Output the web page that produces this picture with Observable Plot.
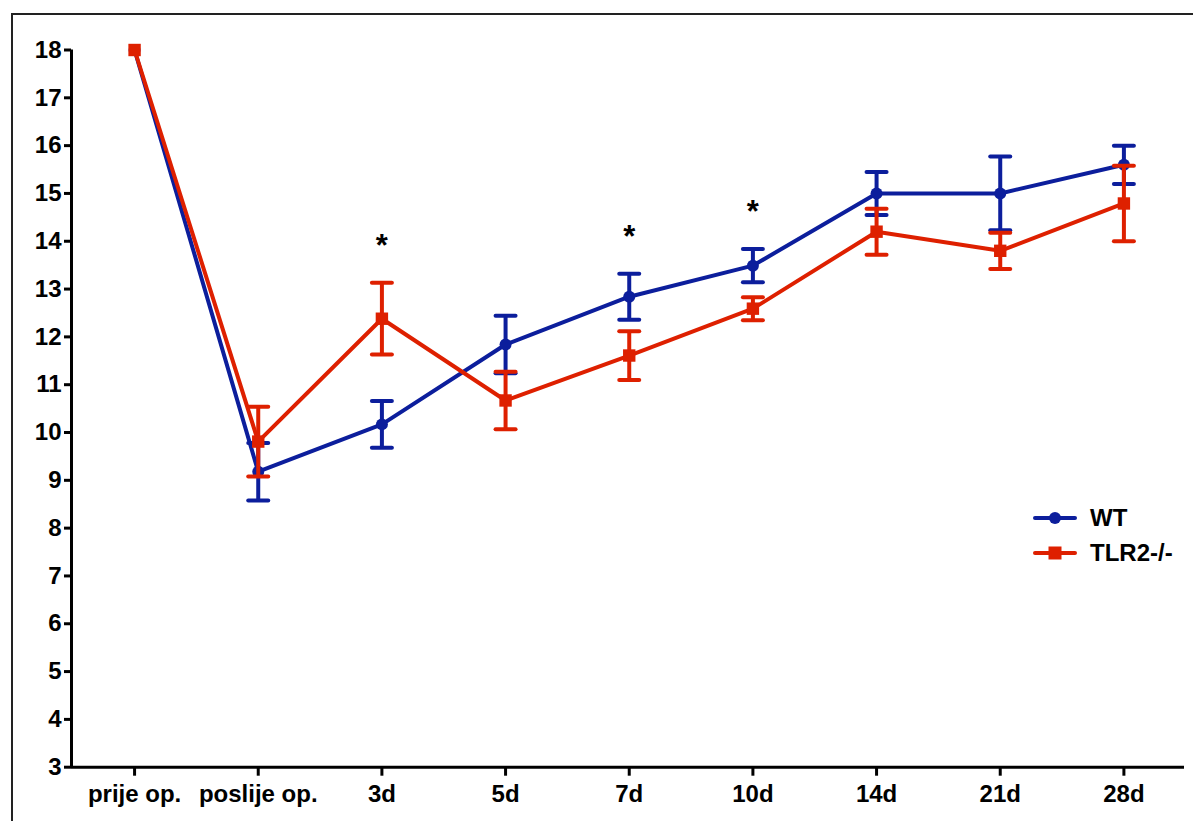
<!DOCTYPE html>
<html>
<head>
<meta charset="utf-8">
<script src="https://cdn.jsdelivr.net/npm/d3@7"></script>
<script src="https://cdn.jsdelivr.net/npm/@observablehq/plot@0.6"></script>
<style>
  html, body { margin: 0; padding: 0; background: #fff; }
  #wrap { position: relative; width: 1193px; height: 821px; overflow: hidden; font-family: "Liberation Sans", Arial, sans-serif; }
  #frame { position: absolute; left: 11px; top: 13px; width: 1200px; height: 900px; border-top: 2px solid #222; border-left: 2px solid #222; }
  #chart { position: absolute; left: 0; top: 0; }
  #legend { position: absolute; left: 1033px; top: 500px; font-weight: bold; font-size: 24px; color: #000; }
  .row { display: flex; align-items: center; height: 35px; }
  .row svg { margin-right: 13px; }
</style>
</head>
<body>
<div id="wrap">
  <div id="frame"></div>
  <div id="chart"></div>
  <div id="legend"></div>
</div>
<script>
const categories = ["prije op.", "poslije op.", "3d", "5d", "7d", "10d", "14d", "21d", "28d"];
const wtMean = [18, 9.18, 10.17, 11.84, 12.84, 13.49, 15.0, 15.0, 15.6];
const wtErr  = [0, 0.6, 0.49, 0.6, 0.48, 0.35, 0.45, 0.77, 0.4];
const koMean = [18, 9.81, 12.38, 10.67, 11.61, 12.59, 14.2, 13.8, 14.79];
const koErr  = [0, 0.73, 0.75, 0.6, 0.51, 0.24, 0.48, 0.38, 0.79];
const starCats = ["3d", "7d", "10d"];
const starY = [13.97, 14.16, 14.68];
const yTicks = d3.range(3, 19);
const seriesNames = ["WT", "TLR2-/-"];
const seriesColors = ["#0c1e9c", "#de2000"];

const xDomain = [-0.51, 8.49];
const yDomain = [3, 18];

function rows(means, errs, name) {
  return means.map((m, i) => ({ i, cat: categories[i], mean: m, err: errs[i], lo: m - errs[i], hi: m + errs[i], series: name }));
}
const wt = rows(wtMean, wtErr, "WT");
const ko = rows(koMean, koErr, "TLR2-/-");
const stars = starCats.map((c, k) => ({ i: categories.indexOf(c), y: starY[k] }));

const capSymbol = {
  draw(ctx, size) {
    const r = Math.sqrt(size / Math.PI);
    ctx.moveTo(-r, 0);
    ctx.lineTo(r, 0);
  }
};

function seriesMarks(data, color, symbol, r) {
  const eb = data.filter(d => d.err > 0);
  return [
    Plot.line(data, { x: "i", y: "mean", stroke: color, strokeWidth: 4, strokeLinejoin: "round" }),
    Plot.ruleX(eb, { x: "i", y1: "lo", y2: "hi", stroke: color, strokeWidth: 4 }),
    Plot.dot(eb, { x: "i", y: "lo", symbol: capSymbol, r: 10, fill: "none", stroke: color, strokeWidth: 4, strokeLinecap: "round" }),
    Plot.dot(eb, { x: "i", y: "hi", symbol: capSymbol, r: 10, fill: "none", stroke: color, strokeWidth: 4, strokeLinecap: "round" }),
    Plot.dot(data, { x: "i", y: "mean", symbol, r, fill: color, stroke: "none" })
  ];
}

const chart = Plot.plot({
  width: 1193,
  height: 821,
  marginLeft: 71,
  marginRight: 9,
  marginTop: 49.5,
  marginBottom: 54.3,
  style: { fontFamily: "Liberation Sans, Arial, sans-serif", fontSize: "24px", fontWeight: "bold", color: "#000", background: "transparent" },
  x: { type: "linear", domain: xDomain },
  y: { domain: yDomain },
  marks: [
    Plot.axisY({ ticks: yTicks, tickSize: 7, tickPadding: 3, strokeWidth: 3, label: null, tickFormat: d => String(d) }),
    Plot.axisX({ ticks: d3.range(categories.length), tickSize: 9, tickPadding: 9, strokeWidth: 3, label: null, tickFormat: i => categories[i] }),
    Plot.ruleY([yDomain[0]], { stroke: "#000", strokeWidth: 3 }),
    Plot.ruleX([xDomain[0]], { y1: yDomain[0], y2: yDomain[1], stroke: "#000", strokeWidth: 3 }),
    ...seriesMarks(wt, seriesColors[0], "circle", 6),
    ...seriesMarks(ko, seriesColors[1], "square", 7),
    Plot.text(stars, { x: "i", y: "y", text: () => "*", fontSize: 31, fontWeight: "bold", fill: "#000", dy: 3 })
  ]
});
document.getElementById("chart").appendChild(chart);

// legend
const legend = document.getElementById("legend");
seriesNames.forEach((name, k) => {
  const row = document.createElement("div");
  row.className = "row";
  const marker = k === 0
    ? `<circle cx="22" cy="10" r="6" fill="${seriesColors[k]}"/>`
    : `<rect x="15.5" y="3.5" width="13" height="13" fill="${seriesColors[k]}"/>`;
  row.innerHTML = `<svg width="44" height="20"><line x1="2" y1="10" x2="42" y2="10" stroke="${seriesColors[k]}" stroke-width="4" stroke-linecap="round"/>${marker}</svg><span>${name}</span>`;
  legend.appendChild(row);
});
</script>
</body>
</html>
